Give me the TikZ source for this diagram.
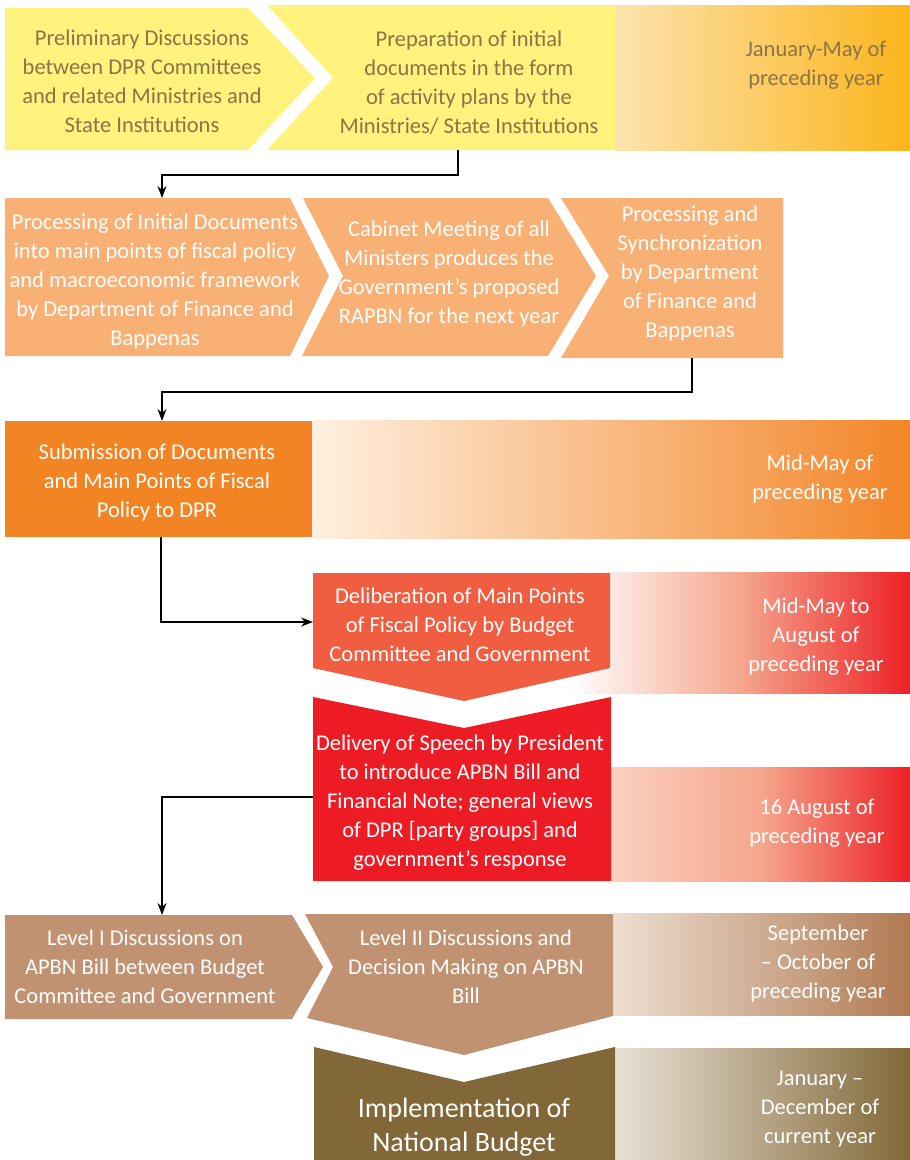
\documentclass[tikz,border=0pt]{standalone}
\usepackage{fontspec}
\setmainfont{Carlito}
\usetikzlibrary{arrows.meta}
\definecolor{yel}{HTML}{FFF27D}
\definecolor{tbrown}{HTML}{8B7548}
\definecolor{lorange}{HTML}{F8B074}
\definecolor{orng}{HTML}{F28423}
\definecolor{delib}{HTML}{F05D40}
\definecolor{redd}{HTML}{ED1C24}
\definecolor{levl}{HTML}{C09272}
\definecolor{impl}{HTML}{826838}
\definecolor{g1l}{HTML}{FDE3AE}
\definecolor{g1r}{HTML}{FBB51C}
\definecolor{g3l}{HTML}{FFF0E0}
\definecolor{g3r}{HTML}{F38528}
\definecolor{salm}{HTML}{F5A68C}
\definecolor{g4r}{HTML}{ED2027}
\definecolor{g4bl}{HTML}{FBD0C0}
\definecolor{g5l}{HTML}{EEDFD2}
\definecolor{g5r}{HTML}{B07A52}
\definecolor{g6l}{HTML}{E9E1D6}
\tikzset{
  txt/.style={align=center, font=\fontsize{22.5}{29}\selectfont, inner sep=0pt},
  wtxt/.style={txt, text=white},
  btxt/.style={txt, text=tbrown},
  arr/.style={draw=black, line width=1.3pt, -{Stealth[length=12pt,width=9pt]}}
}
\begin{document}
\begin{tikzpicture}[x=1pt,y=-1pt]
\useasboundingbox (0,0) rectangle (910,1160);
% gradients
\shade[left color=g1l, right color=g1r] (615,5) rectangle (910,150);
\shade[left color=g3l, right color=g3r] (312,420) rectangle (910,538);
\shade[left color=white, right color=g4r, middle color=salm] (570,572) rectangle (910,693);
\shade[left color=g4bl, right color=g4r, middle color=salm] (611,767) rectangle (910,881);
\shade[left color=g5l, right color=g5r] (613,913) rectangle (910,1015);
\shade[left color=g6l, right color=impl] (615,1048) rectangle (910,1160);
% row 1
\fill[yel] (5,8) -- (248,8) -- (315,78) -- (248,150) -- (5,150) -- cycle;
\fill[yel] (267,5) -- (615,5) -- (615,150) -- (267,150) -- (333,78) -- cycle;
% row 2
\fill[lorange] (5,198) -- (290,198) -- (329,276) -- (290,356) -- (5,356) -- cycle;
\fill[lorange] (303,198) -- (548,198) -- (596,276) -- (548,356) -- (302,356) -- (343,276) -- cycle;
\fill[lorange] (561,198) -- (783,198) -- (783,358) -- (561,358) -- (609,276) -- cycle;
% row 3
\fill[orng] (5,421) rectangle (312,537);
% row 4
\fill[delib] (313,573) -- (610,573) -- (610,668) -- (464,701) -- (313,668) -- cycle;
\fill[redd] (313,697) -- (464,728) -- (611,697) -- (611,881) -- (313,881) -- cycle;
% row 5
\fill[levl] (5,915) -- (292,915) -- (323,967) -- (292,1019) -- (5,1019) -- cycle;
\fill[levl] (305,914) -- (613,914) -- (613,1016) -- (464,1055) -- (307,1018) -- (333,967) -- cycle;
\fill[impl] (314,1047) -- (464,1082) -- (615,1047) -- (615,1160) -- (314,1160) -- cycle;

% texts
\node[btxt] (prelim) at (142,81) {Preliminary Discussions\\between DPR Committees\\and related Ministries and\\State Institutions};
\node[btxt] (prep) at (469,83) {Preparation of initial\\documents in the form\\of activity plans by the\\Ministries/ State Institutions};
\node[btxt] (d1) at (816,65) {January-May of\\preceding year};
\node[wtxt] (procA) at (155,281) {Processing of Initial Documents\\into main points of fiscal policy\\and macroeconomic framework\\by Department of Finance and\\Bappenas};
\node[wtxt] (cab) at (449,274) {Cabinet Meeting of all\\Ministers produces the\\Government’s proposed\\RAPBN for the next year};
\node[wtxt] (sync) at (690,273) {Processing and\\Synchronization\\by Department\\of Finance and\\Bappenas};
\node[wtxt] (sub) at (157,482) {Submission of Documents\\and Main Points of Fiscal\\Policy to DPR};
\node[wtxt] (d2) at (820,479) {Mid-May of\\preceding year};
\node[wtxt] (del) at (460,625) {Deliberation of Main Points\\of Fiscal Policy by Budget\\Committee and Government};
\node[wtxt] (d3) at (816,637) {Mid-May to\\August of\\preceding year};
\node[wtxt] (speech) at (460,803) {Delivery of Speech by President\\to introduce APBN Bill and\\Financial Note; general views\\of DPR [party groups] and\\government’s response};
\node[wtxt] (d4) at (817,823) {16 August of\\preceding year};
\node[wtxt] (lv1) at (145,967) {Level I Discussions on\\APBN Bill between Budget\\Committee and Government};
\node[wtxt] (lv2) at (466,967) {Level II Discussions and\\Decision Making on APBN\\Bill};
\node[wtxt] (d5) at (818,964) {September\\– October of\\preceding year};
\node[wtxt, font=\fontsize{28}{34}\selectfont] (impl) at (464,1127) {Implementation of\\National Budget};
\node[wtxt] (d6) at (820,1109) {January –\\December of\\current year};

% connectors
\coordinate (prepB) at (458,150);
\coordinate (procT) at (162,198);
\coordinate (syncB) at (692,358);
\coordinate (subT) at (162,421);
\coordinate (subB) at (161,537);
\coordinate (delL) at (313,622);
\coordinate (speechL) at (313,797);
\coordinate (lv1T) at (162,915);
\draw[arr] (prepB) -- ++(0,25) -| (procT);
\draw[arr] (syncB) -- ++(0,34) -| (subT);
\draw[arr] (subB) |- (delL);
\draw[arr] (speechL) -| (lv1T);
\end{tikzpicture}
\end{document}
